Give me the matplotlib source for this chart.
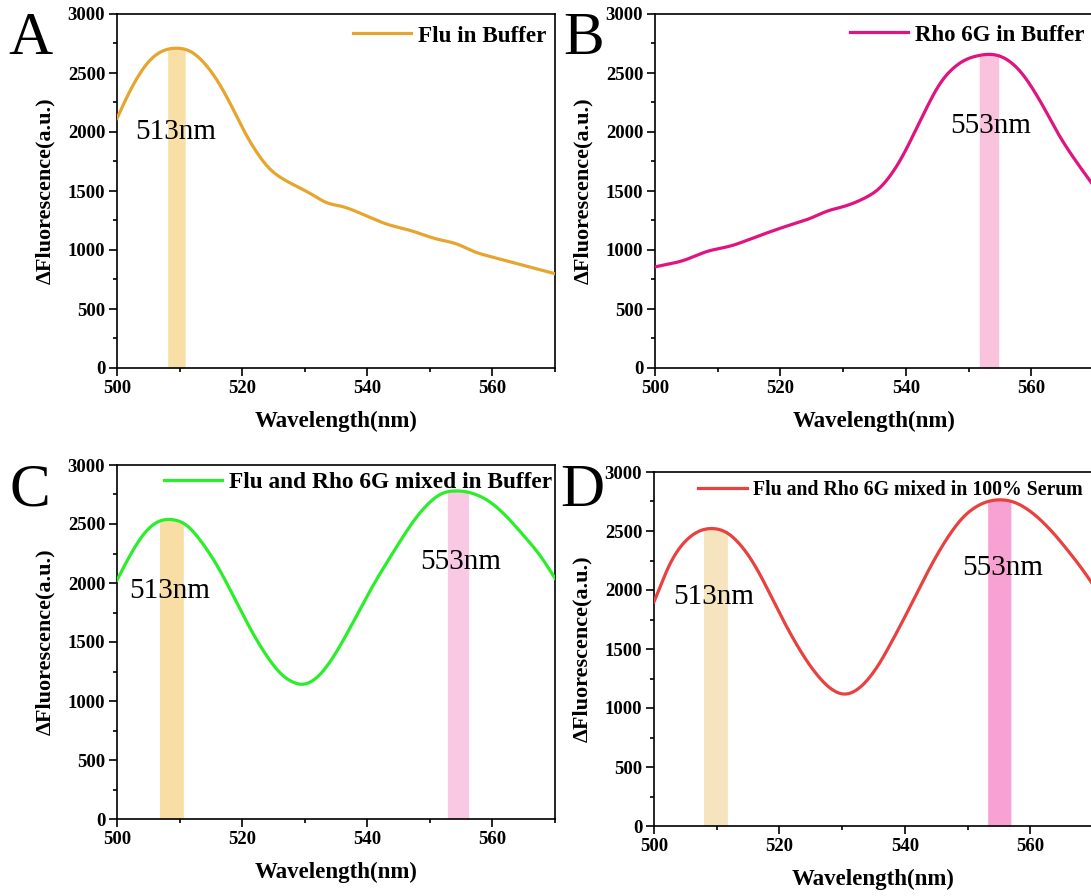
import matplotlib
matplotlib.use("Agg")
import matplotlib.pyplot as plt
from matplotlib.ticker import MultipleLocator
import numpy as np

plt.rcParams['font.family'] = ['Liberation Serif', 'DejaVu Serif']

# emission spectra, wavelength (nm) vs delta fluorescence (a.u.)
wl_a = [500, 501.6, 503.2, 505.3, 507.5, 509.6, 511.7, 513.8, 516, 518.1, 520.2, 522.4,
        524.5, 526.6, 528.8, 530.9, 533.8, 535.5, 540.1, 542.9, 546.9, 550.9, 554.3,
        557.2, 560, 564, 570]
flu_a = [2115, 2300, 2460, 2615, 2695, 2712, 2689, 2596, 2441, 2243, 2017, 1820,
         1678, 1599, 1537, 1480, 1391, 1377, 1284, 1222, 1166, 1095, 1053,
         982, 940, 883, 799]

wl_b = [500, 504.7, 508, 512.5, 515.8, 518.6, 521.4, 524.7, 527.5, 530.3, 533, 535.9,
        539.1, 542.3, 545.5, 548.7, 551.9, 553.5, 555.6, 558.2, 561.4, 564.6, 567.8,
        570]
flu_b = [857, 913, 984, 1040, 1105, 1159, 1210, 1266, 1332, 1371, 1428, 1525,
         1757, 2096, 2420, 2590, 2652, 2661, 2633, 2520, 2265, 1955, 1701,
         1540]

wl_c = [500, 502.1, 504.3, 506.4, 508.8, 511.2, 513.3, 516, 518.6, 521.3, 524, 526.6,
        528.8, 529.6, 530.4, 531.9, 534.1, 537.3, 540.5, 543.7, 545.5, 547.3, 549.5,
        551.6, 554.3, 556.9, 559.6, 562.3, 564.9, 567.6, 570]
flu_c = [2025, 2237, 2421, 2520, 2540, 2492, 2364, 2150, 1890, 1612, 1375, 1206,
         1144, 1132, 1144, 1192, 1333, 1624, 1941, 2223, 2375, 2520, 2661,
         2754, 2782, 2760, 2689, 2562, 2407, 2237, 2040]

wl_d = [500, 500.4, 502, 503.6, 505.7, 507.8, 509.6, 511.5, 513.6, 515.8, 517.9, 520,
        522.1, 525.4, 528.2, 530.4, 532.6, 535.4, 538.2, 541, 543.7, 546.5, 549.3,
        552.1, 554.8, 557.6, 560.4, 563.2, 565.9, 569.3, 570]
flu_d = [1900, 1943, 2169, 2325, 2452, 2514, 2523, 2494, 2396, 2236, 2030, 1805,
         1596, 1320, 1160, 1111, 1160, 1330, 1590, 1875, 2160, 2420, 2620,
         2729, 2766, 2743, 2652, 2511, 2341, 2101, 2045]

labels = ['Flu in Buffer', 'Rho 6G in Buffer',
          'Flu and Rho 6G mixed in Buffer', 'Flu and Rho 6G mixed in 100% Serum']
colors = ['#E5A52E', '#E0137F', '#2BEE2B', '#E8413F']
letters = ['A', 'B', 'C', 'D']

# highlighted peak bands: (start, end, colour)
bands = [
    [(508.1, 510.9, '#F8DFA6')],
    [(551.7, 554.8, '#F9C3DE')],
    [(506.8, 510.6, '#F8DDA4'), (552.8, 556.2, '#F9C8E2')],
    [(507.9, 511.7, '#F6E4BF'), (553.2, 556.9, '#F7A2D3')],
]
# peak labels: (x, y, text)
peak_text = [
    [(502.9, 2000, '513nm')],
    [(547.1, 2054, '553nm')],
    [(501.9, 1935, '513nm'), (548.5, 2180, '553nm')],
    [(503.0, 1941, '513nm'), (549.2, 2186, '553nm')],
]

legend_size = [16.7, 16.5, 16.8, 14.2]
# legend right edge and centre line, in pixels
legend_at = [(546, 36), (1084, 35), (552, 482), (1083, 490)]

W, H = 1091, 896
fig = plt.figure(figsize=(W / 100, H / 100), dpi=100)

# panel boxes in pixels: left, top, right, bottom (B and D run past the right edge)
boxes = [(117, 14, 555, 368), (655, 14, 1094, 368),
         (117, 465, 555, 819), (654, 472, 1093, 826)]
letter_pos = [(8, 54), (563, 54), (9, 505), (560, 506)]

series = [(wl_a, flu_a), (wl_b, flu_b), (wl_c, flu_c), (wl_d, flu_d)]


def smooth(x, y, xf, sigma=0.8):
    # cubic hermite through the points, then a light gaussian pass
    x = np.asarray(x, float)
    y = np.asarray(y, float)
    m = np.gradient(y, x)
    k = np.clip(np.searchsorted(x, xf) - 1, 0, len(x) - 2)
    h = x[k + 1] - x[k]
    t = (xf - x[k]) / h
    h00 = 2 * t**3 - 3 * t**2 + 1
    h10 = t**3 - 2 * t**2 + t
    h01 = -2 * t**3 + 3 * t**2
    h11 = t**3 - t**2
    yf = h00 * y[k] + h10 * h * m[k] + h01 * y[k + 1] + h11 * h * m[k + 1]

    step = xf[1] - xf[0]
    n = int(3 * sigma / step)
    g = np.exp(-0.5 * (np.arange(-n, n + 1) * step / sigma) ** 2)
    g /= g.sum()
    padded = np.pad(yf, n, mode='reflect', reflect_type='odd')
    return np.convolve(padded, g, mode='valid')


for i in range(4):
    l, t, r, b = boxes[i]
    ax = fig.add_axes([l / W, 1 - b / H, (r - l) / W, (b - t) / H])
    xf = np.linspace(500, 570, 1401)
    yf = smooth(series[i][0], series[i][1], xf)

    for x0, x1, c in bands[i]:
        m = (xf >= x0) & (xf <= x1)
        ax.fill_between(xf[m], 0, yf[m], color=c, lw=0, zorder=1)

    ax.plot(xf, yf, color=colors[i], lw=2.3, label=labels[i], zorder=3)

    for tx, ty, s in peak_text[i]:
        ax.text(tx, ty, s, fontsize=21, va='center', ha='left', zorder=4)

    ax.set_xlim(500, 570)
    ax.set_ylim(0, 3000)
    ax.xaxis.set_major_locator(MultipleLocator(20))
    ax.xaxis.set_minor_locator(MultipleLocator(10))
    ax.yaxis.set_major_locator(MultipleLocator(500))
    ax.yaxis.set_minor_locator(MultipleLocator(250))
    ax.tick_params(which='both', direction='out', width=1.2, labelsize=13.5,
                   top=False, right=False)
    ax.tick_params(which='major', length=5.5, pad=3)
    ax.tick_params(which='minor', length=3)
    for lab in ax.get_xticklabels() + ax.get_yticklabels():
        lab.set_fontweight('bold')
    for sp in ax.spines.values():
        sp.set_linewidth(1.2)

    ax.set_xlabel('Wavelength(nm)', fontsize=16.5, fontweight='bold', labelpad=10)
    ax.set_ylabel('ΔFluorescence(a.u.)', fontsize=16, fontweight='bold', labelpad=9)

    rx, cy = legend_at[i]
    ax.legend(loc='center right', bbox_to_anchor=(rx / W, 1 - cy / H),
              bbox_transform=fig.transFigure, frameon=False,
              handlelength=2.5, handletextpad=0.3, borderaxespad=0, borderpad=0,
              prop={'weight': 'bold', 'size': legend_size[i]})

    lx, ly = letter_pos[i]
    fig.text(lx / W, 1 - ly / H, letters[i], fontsize=44, ha='left', va='baseline')

fig.savefig('out.png', dpi=100)
